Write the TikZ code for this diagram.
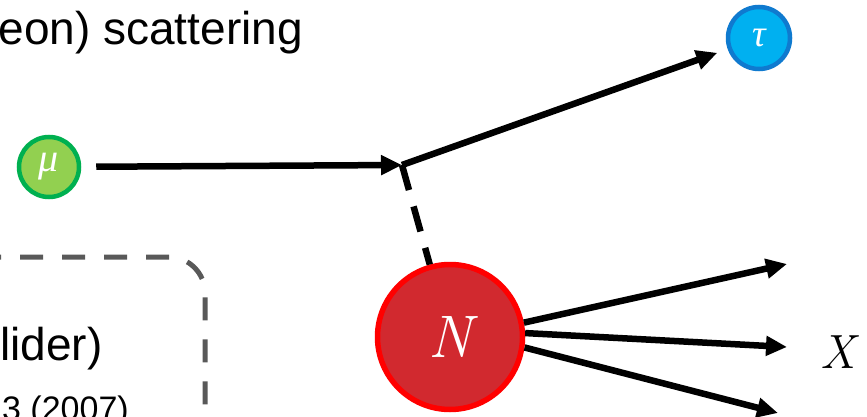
\documentclass[tikz,border=0pt]{standalone}
\usepackage{fontspec}
\newfontfamily\arialfont{Liberation Sans}
\newfontfamily\greekfont{Liberation Serif}
\usetikzlibrary{arrows.meta}

\definecolor{muFill}{HTML}{92D050}
\definecolor{muLine}{HTML}{00B050}
\definecolor{tauFill}{HTML}{00B0F0}
\definecolor{tauLine}{HTML}{0F7ACF}
\definecolor{nFill}{HTML}{D1292F}
\definecolor{nLine}{HTML}{FF0000}
\definecolor{boxGray}{HTML}{595959}

\tikzset{
  particle/.style={circle, inner sep=0pt, text=white},
  flow/.style={line width=6.5pt, black,
    -{Triangle[length=21pt,width=19pt]}},
  exchange/.style={line width=6.5pt, black, dash pattern=on 26pt off 17pt},
  frame/.style={line width=5pt, boxGray, rounded corners=36pt,
    dash pattern=on 23pt off 19pt, dash phase=2pt},
  bigtext/.style={inner sep=0pt, font=\arialfont\fontsize{46}{54}\selectfont},
  smalltext/.style={inner sep=0pt, font=\arialfont\fontsize{34}{40}\selectfont}
}

\begin{document}
\begin{tikzpicture}[x=1pt, y=-1pt]
  \useasboundingbox (0,0) rectangle (867,417);
  \clip (0,0) rectangle (867,417);

  % captions
  \node[bigtext, anchor=base east] (title) at (303,45) {eon) scattering};
  \node[bigtext, anchor=base west] (collider) at (0,360) {lider)};
  \node[smalltext, anchor=base east] (ref) at (129,420) {3 (2007)};

  % dashed frame around the collider note
  \draw[frame] (-20,257) -- (205,257) -- (205,450);

  % particles
  \node[particle, minimum size=60pt, line width=4.5pt, draw=muLine, fill=muFill,
        font=\greekfont\itshape\fontsize{40}{40}\selectfont] (mu) at (49,167) {μ};
  \node[particle, minimum size=62pt, line width=4.5pt, draw=tauLine, fill=tauFill,
        font=\greekfont\itshape\fontsize{38}{38}\selectfont] (tau) at (759,38) {τ};
  \node[particle, minimum size=145pt, line width=5.5pt, draw=nLine, fill=nFill,
        font=\itshape\fontsize{60}{60}\selectfont] (N) at (450,337) {N};
  \node[inner sep=0pt, font=\itshape\fontsize{48}{48}\selectfont] (X) at (838,352) {X};

  % interaction vertex and hadronic final state directions
  \coordinate (v) at (402,165);
  \coordinate (x1) at (787,264);
  \coordinate (x2) at (787,347);
  \coordinate (x3) at (778,413);

  % lepton lines
  \draw[flow, shorten <=15pt] (mu) -- (v);
  \draw[flow, shorten >=11pt, line join=round] (v) -- (tau);
  \draw[exchange] (v) -- (N);

  % hadronic system
  \draw[flow] (N.11) -- (x1);
  \draw[flow] (N.3) -- (x2);
  \draw[flow] (N.-8) -- (x3);
\end{tikzpicture}
\end{document}
